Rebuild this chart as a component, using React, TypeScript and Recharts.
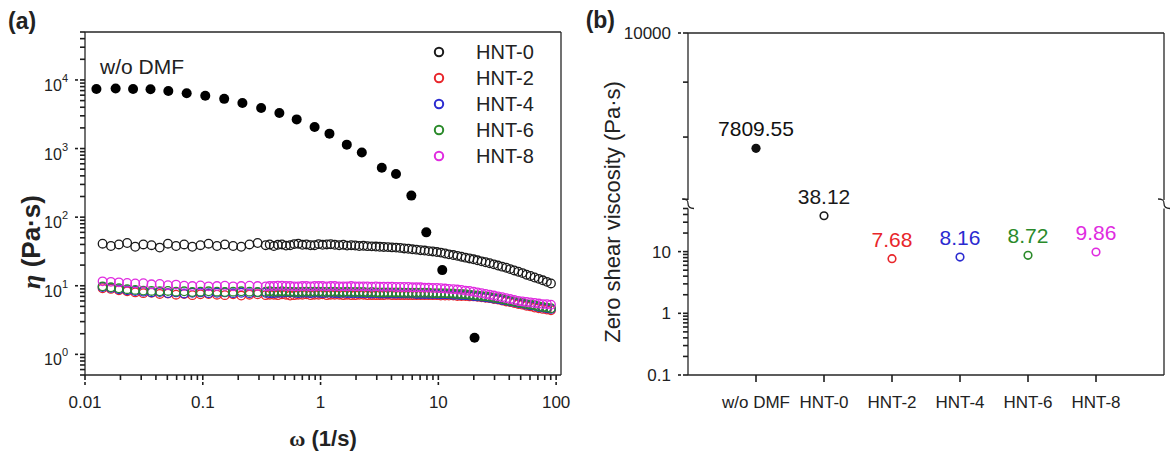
import React from "react";
import { ScatterChart, Scatter, XAxis, YAxis, ReferenceLine, Legend } from "recharts";

const FONT = '"Liberation Sans", Arial, sans-serif';
const SERIF = '"Liberation Serif", "Times New Roman", serif';
const INK = "#222";
const AXIS = { stroke: "#262626", strokeWidth: 1.3 };
const TICK_LINE = { stroke: "#1e1e1e", strokeWidth: 1.6 };

// ---- panel (a): viscosity vs angular frequency ----
const omegaDry = [0.0125, 0.0182, 0.0256, 0.036, 0.051, 0.073, 0.105, 0.152, 0.217, 0.313, 0.447, 0.627, 0.89, 1.19, 1.67, 2.24, 3.31, 4.37, 5.9, 7.9, 10.8, 20.3];
const etaDry = [7400, 7500, 7400, 7300, 6900, 6400, 5900, 5300, 4600, 3900, 3300, 2660, 2060, 1650, 1140, 875, 525, 425, 206, 60, 16.9, 1.75];

const omega = [
  0.0141, 0.0166, 0.0194, 0.0228, 0.0267, 0.0313, 0.0367, 0.0431, 0.0506, 0.0593,
  0.0695, 0.0815, 0.0955, 0.112, 0.132, 0.154, 0.181, 0.212, 0.249, 0.292,
  0.342, 0.37, 0.401, 0.434, 0.47, 0.509, 0.552, 0.598, 0.647, 0.701, 0.759, 0.822, 0.889,
  0.963, 1.04, 1.13, 1.22, 1.32, 1.44, 1.56, 1.68, 1.82, 1.97,
  2.13, 2.31, 2.5, 2.72, 2.95, 3.18, 3.44, 3.73, 4.04, 4.38,
  4.74, 5.13, 5.56, 6.02, 6.52, 7.06, 7.65, 8.28, 8.97, 9.71,
  10.5, 11.4, 12.3, 13.4, 14.5, 15.7, 17.0, 18.4, 19.9, 21.5,
  23.3, 25.2, 27.3, 29.6, 32.1, 34.8, 37.7, 40.7, 44.1, 47.8,
  51.8, 56.0, 60.6, 65.7, 71.2, 77.1, 83.5, 90.4,
];
const etaHnt0 = [
  41, 38, 40, 42, 37, 40, 39, 36, 41, 38, 40, 37, 39, 41, 38, 40, 38, 37, 40, 42,
  39, 40, 38, 39.5, 40, 38.5, 39, 40.5, 41, 39.5, 40, 39, 39,
  40.5, 39.5, 40, 40.3, 39.5, 39, 39.6, 38.5, 39, 38.6,
  38, 38.2, 37.8, 37.5, 37.3, 37, 36.8, 36.6, 36.2, 36,
  35.6, 35, 34.6, 34, 33.6, 33, 32.6, 32, 31.6, 31,
  30.4, 29.5, 28.7, 28, 27.3, 26.5, 25.7, 25, 24.3, 23.5,
  22.7, 22, 21.3, 20.5, 19.7, 19, 18.3, 17.5, 16.7, 16,
  15.3, 14.5, 13.9, 13.2, 12.6, 12, 11.4, 10.8,
];
const etaHnt2 = [
  9.2, 9.0, 8.6, 8.3, 8.0, 7.8, 7.9, 7.6, 7.7, 7.4, 7.6, 7.3, 7.5, 7.6, 7.4, 7.3, 7.5, 7.2, 7.4, 7.5,
  7.3, 7.4, 7.4, 7.3, 7.5, 7.4, 7.2, 7.3, 7.4, 7.4, 7.5, 7.3, 7.4,
  7.4, 7.5, 7.3, 7.4, 7.4, 7.4, 7.3, 7.4, 7.3, 7.3,
  7.4, 7.4, 7.3, 7.3, 7.3, 7.3, 7.3, 7.4, 7.3, 7.3,
  7.3, 7.3, 7.3, 7.3, 7.3, 7.3, 7.3, 7.3, 7.3, 7.3,
  7.2, 7.2, 7.2, 7.2, 7.1, 7.1, 7.1, 7.0, 7.0, 6.9,
  6.8, 6.7, 6.6, 6.4, 6.3, 6.1, 5.9, 5.8, 5.6, 5.4,
  5.3, 5.1, 5.0, 4.8, 4.7, 4.6, 4.5, 4.4,
];
const etaHnt4 = [
  9.6, 9.3, 8.9, 8.6, 8.4, 8.2, 8.0, 8.1, 7.8, 8.0, 7.7, 7.9, 8.0, 7.8, 7.9, 8.0, 7.8, 7.9, 7.8, 8.0,
  7.9, 7.8, 7.8, 7.9, 7.9, 8.0, 8.0, 7.9, 7.8, 7.9, 7.9, 7.8, 7.9,
  7.9, 7.8, 7.9, 7.9, 7.8, 7.8, 7.9, 7.8, 7.8, 7.8,
  7.8, 7.8, 7.8, 7.7, 7.8, 7.7, 7.7, 7.7, 7.7, 7.7,
  7.7, 7.7, 7.7, 7.7, 7.6, 7.6, 7.6, 7.6, 7.6, 7.6,
  7.5, 7.5, 7.5, 7.4, 7.4, 7.3, 7.3, 7.2, 7.1, 7.0,
  6.9, 6.8, 6.7, 6.5, 6.4, 6.2, 6.1, 5.9, 5.8, 5.6,
  5.5, 5.3, 5.2, 5.1, 4.9, 4.8, 4.7, 4.6,
];
const etaHnt6 = [
  9.8, 9.5, 9.2, 8.9, 8.7, 8.5, 8.4, 8.3, 8.4, 8.2, 8.3, 8.1, 8.2, 8.3, 8.2, 8.1, 8.2, 8.3, 8.2, 8.1,
  8.2, 8.3, 8.2, 8.2, 8.3, 8.2, 8.2, 8.1, 8.1, 8.2, 8.2, 8.2, 8.2,
  8.2, 8.2, 8.1, 8.2, 8.2, 8.1, 8.1, 8.2, 8.1, 8.1,
  8.1, 8.1, 8.0, 8.1, 8.0, 8.0, 8.0, 8.0, 8.0, 8.0,
  8.0, 7.9, 7.9, 7.9, 7.9, 7.9, 7.9, 7.9, 7.8, 7.8,
  7.8, 7.8, 7.7, 7.7, 7.6, 7.6, 7.5, 7.4, 7.3, 7.2,
  7.1, 7.0, 6.9, 6.7, 6.6, 6.4, 6.2, 6.0, 5.9, 5.7,
  5.6, 5.4, 5.3, 5.2, 5.0, 4.9, 4.8, 4.7,
];
const etaHnt8 = [
  11.6, 11.4, 11.2, 11.0, 10.8, 10.9, 10.5, 10.6, 10.2, 10.4, 10.0, 9.9, 10.1, 9.8, 9.9, 10.0, 9.8, 9.9, 10.0, 9.9,
  9.8, 9.9, 9.9, 10.0, 10.0, 9.9, 9.9, 9.8, 9.8, 9.9, 9.9, 9.8, 9.9,
  9.9, 9.9, 9.8, 9.9, 9.9, 9.8, 9.8, 9.8, 9.9, 9.8,
  9.8, 9.8, 9.8, 9.7, 9.8, 9.7, 9.7, 9.7, 9.7, 9.6,
  9.6, 9.6, 9.6, 9.5, 9.5, 9.5, 9.4, 9.4, 9.3, 9.3,
  9.2, 9.1, 9.0, 8.9, 8.8, 8.7, 8.5, 8.4, 8.2, 8.0,
  7.8, 7.6, 7.4, 7.2, 7.0, 6.8, 6.6, 6.4, 6.2, 6.0,
  5.9, 5.8, 5.7, 5.6, 5.5, 5.4, 5.4, 5.3,
];

const xMajorA = [0.01, 0.1, 1, 10, 100];
const xMinorA = [
  0.02, 0.03, 0.04, 0.05, 0.06, 0.07, 0.08, 0.09,
  0.2, 0.3, 0.4, 0.5, 0.6, 0.7, 0.8, 0.9,
  2, 3, 4, 5, 6, 7, 8, 9,
  20, 30, 40, 50, 60, 70, 80, 90,
];
const yMajorA = [1, 10, 100, 1000, 10000];
const yMinorA = [
  0.5, 0.6, 0.7, 0.8, 0.9,
  2, 3, 4, 5, 6, 7, 8, 9,
  20, 30, 40, 50, 60, 70, 80, 90,
  200, 300, 400, 500, 600, 700, 800, 900,
  2000, 3000, 4000, 5000, 6000, 7000, 8000, 9000,
  20000, 30000, 40000, 50000,
];

// ---- panel (b): zero shear viscosity ----
const categories = ["w/o DMF", "HNT-0", "HNT-2", "HNT-4", "HNT-6", "HNT-8"];
const zeroShear = [7809.55, 38.12, 7.68, 8.16, 8.72, 9.86];
const categoryColors = ["#111111", "#1a1a1a", "#e8262b", "#2b2bd0", "#2a8a2a", "#e02be0"];

const upperTicksB = [7000, 8000, 9000, 10000];
const upperMajorB = [10000];
const lowerMajorB = [0.1, 1, 10];
const lowerMinorB = [
  0.2, 0.3, 0.4, 0.5, 0.6, 0.7, 0.8, 0.9,
  2, 3, 4, 5, 6, 7, 8, 9,
  20, 30, 40, 50,
];
const BREAK = 50;

const seriesA = [
  { name: "HNT-0", color: "#1a1a1a", values: etaHnt0 },
  { name: "HNT-2", color: "#e8262b", values: etaHnt2 },
  { name: "HNT-4", color: "#2b2bd0", values: etaHnt4 },
  { name: "HNT-6", color: "#2a8a2a", values: etaHnt6 },
  { name: "HNT-8", color: "#e02be0", values: etaHnt8 },
];

const dryData = omegaDry.map((w, i) => ({ w, eta: etaDry[i] }));
const pointsB = zeroShear.map((v, i) => ({ i, v, label: String(v), color: categoryColors[i], filled: i === 0 }));
const upperData = pointsB.filter((p) => p.v > BREAK);
const lowerData = pointsB.filter((p) => p.v <= BREAK);

const byValue = (a: number, b: number) => a - b;
const xTicksA = [...xMajorA, ...xMinorA].sort(byValue);
const yTicksA = [...yMajorA, ...yMinorA].sort(byValue);
const lowerTicksB = [...lowerMajorB, ...lowerMinorB].sort(byValue);

// tick lines come from recharts (5px); majors get an extension here
const renderLogXTick = (p: any) => {
  const v = p.payload.value;
  if (!xMajorA.includes(v)) return <g />;
  return (
    <g>
      <line x1={p.x} x2={p.x} y1={p.y} y2={p.y + 3} {...TICK_LINE} />
      <text x={p.x} y={p.y + 26} textAnchor="middle" fontSize={17} fill={INK} fontFamily={FONT}>
        {String(v)}
      </text>
    </g>
  );
};

const renderPowerTick = (p: any) => {
  const v = p.payload.value;
  if (!yMajorA.includes(v)) return <g />;
  return (
    <g>
      <line x1={p.x} x2={p.x - 3} y1={p.y} y2={p.y} {...TICK_LINE} />
      <text x={p.x - 10} y={p.y + 11} textAnchor="end" fontSize={16} fill={INK} fontFamily={FONT}>
        10
        <tspan dy={-9} fontSize={11}>
          {Math.round(Math.log10(v))}
        </tspan>
      </text>
    </g>
  );
};

const makeValueTick = (majors: number[]) => (p: any) => {
  const v = p.payload.value;
  if (!majors.includes(v)) return <g />;
  return (
    <g>
      <line x1={p.x} x2={p.x - 3} y1={p.y} y2={p.y} {...TICK_LINE} />
      <text x={p.x - 10} y={p.y + 6} textAnchor="end" fontSize={17} fill={INK} fontFamily={FONT}>
        {String(v)}
      </text>
    </g>
  );
};

const renderCategoryTick = (p: any) => (
  <text x={p.x} y={p.y + 24} textAnchor="middle" fontSize={17} fill={INK} fontFamily={FONT}>
    {categories[p.payload.value]}
  </text>
);

const openCircle = (color: string) => (p: any) => (
  <circle cx={p.cx} cy={p.cy} r={4.3} fill="none" stroke={color} strokeWidth={1.3} />
);
const filledDot = (p: any) => <circle cx={p.cx} cy={p.cy} r={5} fill="#000" />;

const zeroShearPoint = (p: any) => {
  const d = p.payload;
  return (
    <g>
      {d.filled ? (
        <circle cx={p.cx} cy={p.cy} r={4.6} fill={d.color} />
      ) : (
        <circle cx={p.cx} cy={p.cy} r={3.8} fill="none" stroke={d.color} strokeWidth={1.6} />
      )}
      <text x={p.cx} y={p.cy - 12} textAnchor="middle" fontSize={21} fill={d.color} fontFamily={FONT}>
        {d.label}
      </text>
    </g>
  );
};

const renderLegendA = () => (
  <svg width={140} height={135}>
    {seriesA.map((s, i) => (
      <g key={s.name}>
        <circle cx={9} cy={12 + i * 26} r={4.2} fill="none" stroke={s.color} strokeWidth={2} />
        <text x={46} y={19 + i * 26} fontSize={20} fill={INK} fontFamily={FONT}>
          {s.name}
        </text>
      </g>
    ))}
  </svg>
);

const breakMark = (x: number) => `M ${x - 6} 199 C ${x - 1} 199 ${x} 200.5 ${x} 203.5 C ${x} 206.5 ${x + 1} 208.5 ${x + 6} 208.5`;

export default function App() {
  return (
    <div style={{ position: "absolute", left: 0, top: 0, width: 1171, height: 455, background: "#fff", overflow: "hidden" }}>
      {/* (a) */}
      <div style={{ position: "absolute", left: 0, top: 0 }}>
        <ScatterChart width={600} height={455} margin={{ top: 32, right: 39, bottom: 40, left: 0 }}>
          <XAxis
            type="number"
            dataKey="w"
            scale="log"
            domain={[0.01, 110]}
            allowDataOverflow
            ticks={xTicksA}
            interval={0}
            tickSize={5}
            tickLine={TICK_LINE}
            tick={renderLogXTick}
            height={40}
            axisLine={AXIS}
          />
          <YAxis
            type="number"
            dataKey="eta"
            scale="log"
            domain={[0.5, 50000]}
            allowDataOverflow
            ticks={yTicksA}
            interval={0}
            tickSize={5}
            tickLine={TICK_LINE}
            tick={renderPowerTick}
            width={85}
            axisLine={AXIS}
          />
          <ReferenceLine y={50000} {...AXIS} />
          <ReferenceLine x={110} {...AXIS} />
          {seriesA.map((s) => (
            <Scatter
              key={s.name}
              name={s.name}
              data={omega.map((w, i) => ({ w, eta: s.values[i] }))}
              shape={openCircle(s.color)}
              isAnimationActive={false}
            />
          ))}
          <Scatter name="w/o DMF" data={dryData} shape={filledDot} legendType="none" isAnimationActive={false} />
          <Legend
            layout="horizontal"
            verticalAlign="middle"
            align="center"
            content={renderLegendA}
            wrapperStyle={{ left: 430, top: 40, width: 140, height: 135 }}
          />
        </ScatterChart>
      </div>

      {/* (b) upper segment */}
      <div style={{ position: "absolute", left: 600, top: 0 }}>
        <ScatterChart width={571} height={200} margin={{ top: 33, right: 7, bottom: 0, left: 0 }}>
          <XAxis type="number" dataKey="i" domain={[-1, 6]} hide />
          <YAxis
            type="number"
            dataKey="v"
            scale="log"
            domain={[6990, 10000]}
            ticks={upperTicksB}
            interval={0}
            tickSize={5}
            tickLine={TICK_LINE}
            tick={makeValueTick(upperMajorB)}
            width={88}
            axisLine={AXIS}
          />
          <ReferenceLine y={10000} {...AXIS} />
          <ReferenceLine x={6} {...AXIS} />
          <Scatter data={upperData} shape={zeroShearPoint} isAnimationActive={false} />
        </ScatterChart>
      </div>

      {/* (b) lower segment */}
      <div style={{ position: "absolute", left: 600, top: 150 }}>
        <ScatterChart width={571} height={305} margin={{ top: 58.5, right: 7, bottom: 40, left: 0 }}>
          <XAxis
            type="number"
            dataKey="i"
            domain={[-1, 6]}
            ticks={[0, 1, 2, 3, 4, 5]}
            interval={0}
            tickSize={7}
            tickLine={TICK_LINE}
            tick={renderCategoryTick}
            height={40}
            axisLine={AXIS}
          />
          <YAxis
            type="number"
            dataKey="v"
            scale="log"
            domain={[0.1, BREAK]}
            ticks={lowerTicksB}
            interval={0}
            tickSize={5}
            tickLine={TICK_LINE}
            tick={makeValueTick(lowerMajorB)}
            width={88}
            axisLine={AXIS}
          />
          <ReferenceLine x={6} {...AXIS} />
          <Scatter data={lowerData} shape={zeroShearPoint} isAnimationActive={false} />
        </ScatterChart>
      </div>

      {/* titles and decorations */}
      <svg width={1171} height={455} style={{ position: "absolute", left: 0, top: 0, pointerEvents: "none" }}>
        <text x={8} y={29} fontSize={23} fontWeight="bold" fill={INK} fontFamily={FONT}>(a)</text>
        <text x={615} y={28} fontSize={23} fontWeight="bold" fill={INK} fontFamily={FONT} textAnchor="end">(b)</text>
        <text x={100} y={74} fontSize={21} fill={INK} fontFamily={FONT}>w/o DMF</text>
        <text x={323} y={446} fontSize={22} fontWeight="bold" fill={INK} fontFamily={FONT} textAnchor="middle">
          <tspan fontFamily={SERIF}>ω</tspan> (1/s)
        </text>
        <text transform="translate(40,242) rotate(-90)" fontSize={26} fontWeight="bold" fill={INK} fontFamily={FONT} textAnchor="middle">
          <tspan fontStyle="italic" fontFamily={SERIF}>η</tspan> (Pa·s)
        </text>
        <text transform="translate(620,212) rotate(-90)" fontSize={22} fill={INK} fontFamily={FONT} textAnchor="middle">
          Zero shear viscosity (Pa·s)
        </text>
        <path d={breakMark(688)} fill="none" stroke="#262626" strokeWidth={1.3} />
        <path d={breakMark(1164)} fill="none" stroke="#262626" strokeWidth={1.3} />
      </svg>
    </div>
  );
}
